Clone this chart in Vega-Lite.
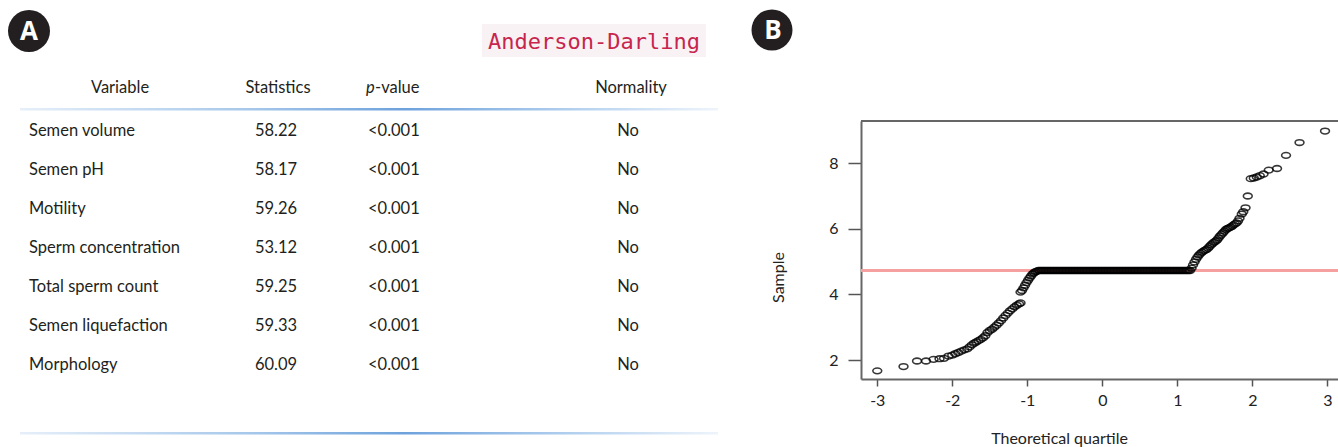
{
  "$schema": "https://vega.github.io/schema/vega-lite/v6.json",
  "padding": 0,
  "autosize": {"type": "pad"},
  "background": "white",
  "spacing": 0,
  "bounds": "flush",
  "config": {"view": {"stroke": null}, "font": "Lato"},
  "datasets": {
    "table": [
      {"Variable": "Semen volume", "Statistics": "58.22", "p": "<0.001", "Normality": "No"},
      {"Variable": "Semen pH", "Statistics": "58.17", "p": "<0.001", "Normality": "No"},
      {"Variable": "Motility", "Statistics": "59.26", "p": "<0.001", "Normality": "No"},
      {"Variable": "Sperm concentration", "Statistics": "53.12", "p": "<0.001", "Normality": "No"},
      {"Variable": "Total sperm count", "Statistics": "59.25", "p": "<0.001", "Normality": "No"},
      {"Variable": "Semen liquefaction", "Statistics": "59.33", "p": "<0.001", "Normality": "No"},
      {"Variable": "Morphology", "Statistics": "60.09", "p": "<0.001", "Normality": "No"}
    ],
    "qq": [
      {"q": -3.00, "s": 1.67}, {"q": -2.65, "s": 1.80}, {"q": -2.47, "s": 1.97}, {"q": -2.35, "s": 1.97},
      {"q": -2.25, "s": 2.02}, {"q": -2.17, "s": 2.04}, {"q": -2.11, "s": 2.05}, {"q": -2.05, "s": 2.12},
      {"q": -2.00, "s": 2.15}, {"q": -1.96, "s": 2.19}, {"q": -1.92, "s": 2.23}, {"q": -1.88, "s": 2.27},
      {"q": -1.84, "s": 2.31}, {"q": -1.80, "s": 2.34}, {"q": -1.77, "s": 2.40}, {"q": -1.74, "s": 2.46},
      {"q": -1.71, "s": 2.51}, {"q": -1.68, "s": 2.55}, {"q": -1.65, "s": 2.59}, {"q": -1.62, "s": 2.63},
      {"q": -1.59, "s": 2.68}, {"q": -1.56, "s": 2.74}, {"q": -1.53, "s": 2.84}, {"q": -1.50, "s": 2.90},
      {"q": -1.47, "s": 2.94}, {"q": -1.44, "s": 3.00}, {"q": -1.41, "s": 3.06}, {"q": -1.38, "s": 3.13},
      {"q": -1.35, "s": 3.20}, {"q": -1.32, "s": 3.28}, {"q": -1.29, "s": 3.36}, {"q": -1.26, "s": 3.43},
      {"q": -1.23, "s": 3.50}, {"q": -1.20, "s": 3.56}, {"q": -1.17, "s": 3.62}, {"q": -1.14, "s": 3.67},
      {"q": -1.11, "s": 3.71}, {"q": -1.09, "s": 3.74}, {"q": -1.09, "s": 4.07}, {"q": -1.07, "s": 4.12},
      {"q": -1.05, "s": 4.20}, {"q": -1.03, "s": 4.28}, {"q": -1.01, "s": 4.36}, {"q": -0.99, "s": 4.43},
      {"q": -0.97, "s": 4.50}, {"q": -0.95, "s": 4.56}, {"q": -0.93, "s": 4.62}, {"q": -0.91, "s": 4.66},
      {"q": -0.89, "s": 4.69}, {"q": -0.87, "s": 4.71},
      {"q": -0.85, "s": 4.73}, {"q": -0.83, "s": 4.73}, {"q": -0.81, "s": 4.73}, {"q": -0.79, "s": 4.73},
      {"q": -0.77, "s": 4.73}, {"q": -0.75, "s": 4.73}, {"q": -0.73, "s": 4.73}, {"q": -0.71, "s": 4.73},
      {"q": -0.69, "s": 4.73}, {"q": -0.67, "s": 4.73}, {"q": -0.65, "s": 4.73}, {"q": -0.63, "s": 4.73},
      {"q": -0.61, "s": 4.73}, {"q": -0.59, "s": 4.73}, {"q": -0.57, "s": 4.73}, {"q": -0.55, "s": 4.73},
      {"q": -0.53, "s": 4.73}, {"q": -0.51, "s": 4.73}, {"q": -0.49, "s": 4.73}, {"q": -0.47, "s": 4.73},
      {"q": -0.45, "s": 4.73}, {"q": -0.43, "s": 4.73}, {"q": -0.41, "s": 4.73}, {"q": -0.39, "s": 4.73},
      {"q": -0.37, "s": 4.73}, {"q": -0.35, "s": 4.73}, {"q": -0.33, "s": 4.73}, {"q": -0.31, "s": 4.73},
      {"q": -0.29, "s": 4.73}, {"q": -0.27, "s": 4.73}, {"q": -0.25, "s": 4.73}, {"q": -0.23, "s": 4.73},
      {"q": -0.21, "s": 4.73}, {"q": -0.19, "s": 4.73}, {"q": -0.17, "s": 4.73}, {"q": -0.15, "s": 4.73},
      {"q": -0.13, "s": 4.73}, {"q": -0.11, "s": 4.73}, {"q": -0.09, "s": 4.73}, {"q": -0.07, "s": 4.73},
      {"q": -0.05, "s": 4.73}, {"q": -0.03, "s": 4.73}, {"q": -0.01, "s": 4.73}, {"q": 0.01, "s": 4.73},
      {"q": 0.03, "s": 4.73}, {"q": 0.05, "s": 4.73}, {"q": 0.07, "s": 4.73}, {"q": 0.09, "s": 4.73},
      {"q": 0.11, "s": 4.73}, {"q": 0.13, "s": 4.73}, {"q": 0.15, "s": 4.73}, {"q": 0.17, "s": 4.73},
      {"q": 0.19, "s": 4.73}, {"q": 0.21, "s": 4.73}, {"q": 0.23, "s": 4.73}, {"q": 0.25, "s": 4.73},
      {"q": 0.27, "s": 4.73}, {"q": 0.29, "s": 4.73}, {"q": 0.31, "s": 4.73}, {"q": 0.33, "s": 4.73},
      {"q": 0.35, "s": 4.73}, {"q": 0.37, "s": 4.73}, {"q": 0.39, "s": 4.73}, {"q": 0.41, "s": 4.73},
      {"q": 0.43, "s": 4.73}, {"q": 0.45, "s": 4.73}, {"q": 0.47, "s": 4.73}, {"q": 0.49, "s": 4.73},
      {"q": 0.51, "s": 4.73}, {"q": 0.53, "s": 4.73}, {"q": 0.55, "s": 4.73}, {"q": 0.57, "s": 4.73},
      {"q": 0.59, "s": 4.73}, {"q": 0.61, "s": 4.73}, {"q": 0.63, "s": 4.73}, {"q": 0.65, "s": 4.73},
      {"q": 0.67, "s": 4.73}, {"q": 0.69, "s": 4.73}, {"q": 0.71, "s": 4.73}, {"q": 0.73, "s": 4.73},
      {"q": 0.75, "s": 4.73}, {"q": 0.77, "s": 4.73}, {"q": 0.79, "s": 4.73}, {"q": 0.81, "s": 4.73},
      {"q": 0.83, "s": 4.73}, {"q": 0.85, "s": 4.73}, {"q": 0.87, "s": 4.73}, {"q": 0.89, "s": 4.73},
      {"q": 0.91, "s": 4.73}, {"q": 0.93, "s": 4.73}, {"q": 0.95, "s": 4.73}, {"q": 0.97, "s": 4.73},
      {"q": 0.99, "s": 4.73}, {"q": 1.01, "s": 4.73}, {"q": 1.03, "s": 4.73}, {"q": 1.05, "s": 4.73},
      {"q": 1.07, "s": 4.73}, {"q": 1.09, "s": 4.73}, {"q": 1.11, "s": 4.73}, {"q": 1.13, "s": 4.73},
      {"q": 1.15, "s": 4.73}, {"q": 1.17, "s": 4.73},
      {"q": 1.19, "s": 4.80}, {"q": 1.21, "s": 4.90}, {"q": 1.23, "s": 4.99}, {"q": 1.25, "s": 5.07},
      {"q": 1.27, "s": 5.14}, {"q": 1.29, "s": 5.20}, {"q": 1.31, "s": 5.25}, {"q": 1.33, "s": 5.29},
      {"q": 1.35, "s": 5.32}, {"q": 1.37, "s": 5.35}, {"q": 1.39, "s": 5.37}, {"q": 1.41, "s": 5.41},
      {"q": 1.43, "s": 5.46}, {"q": 1.45, "s": 5.51}, {"q": 1.47, "s": 5.55}, {"q": 1.49, "s": 5.59},
      {"q": 1.51, "s": 5.62}, {"q": 1.53, "s": 5.66}, {"q": 1.55, "s": 5.72}, {"q": 1.57, "s": 5.78},
      {"q": 1.59, "s": 5.83}, {"q": 1.61, "s": 5.88}, {"q": 1.63, "s": 5.93}, {"q": 1.65, "s": 5.98},
      {"q": 1.67, "s": 6.01}, {"q": 1.69, "s": 6.03}, {"q": 1.71, "s": 6.05}, {"q": 1.73, "s": 6.08},
      {"q": 1.75, "s": 6.12}, {"q": 1.77, "s": 6.15}, {"q": 1.79, "s": 6.18}, {"q": 1.81, "s": 6.24},
      {"q": 1.83, "s": 6.32}, {"q": 1.86, "s": 6.45}, {"q": 1.88, "s": 6.52}, {"q": 1.91, "s": 6.64},
      {"q": 1.94, "s": 7.00}, {"q": 1.98, "s": 7.53}, {"q": 2.02, "s": 7.55}, {"q": 2.06, "s": 7.58},
      {"q": 2.10, "s": 7.62}, {"q": 2.15, "s": 7.67}, {"q": 2.22, "s": 7.79}, {"q": 2.33, "s": 7.84},
      {"q": 2.45, "s": 8.24}, {"q": 2.63, "s": 8.63}, {"q": 2.97, "s": 8.98}
    ]
  },
  "hconcat": [
    {
      "width": 861,
      "height": 447,
      "data": {"name": "table"},
      "resolve": {"scale": {"y": "independent"}},
      "layer": [
        {
          "data": {"values": [{}]},
          "mark": {"type": "rect", "color": "#f9f2f4"},
          "encoding": {
            "x": {"datum": 482, "type": "quantitative", "scale": {"domain": [0, 861], "nice": false, "zero": false}, "axis": null},
            "x2": {"datum": 706},
            "y": {"datum": 24, "type": "quantitative", "scale": {"domain": [0, 447], "reverse": true, "nice": false, "zero": false}, "axis": null},
            "y2": {"datum": 57}
          }
        },
        {
          "data": {"values": [{}]},
          "mark": {"type": "text", "text": "Anderson-Darling", "font": "DejaVu Sans Mono", "fontSize": 22, "color": "#c7254e", "align": "left", "baseline": "middle"},
          "encoding": {
            "x": {"datum": 488, "type": "quantitative", "axis": null},
            "y": {"datum": 42, "type": "quantitative", "scale": {"domain": [0, 447], "reverse": true, "nice": false, "zero": false}, "axis": null}
          }
        },
        {
          "data": {"values": [{}]},
          "mark": {"type": "point", "shape": "circle", "filled": true, "size": 1764, "color": "#231f20", "opacity": 1},
          "encoding": {
            "x": {"datum": 29, "type": "quantitative", "axis": null},
            "y": {"datum": 31, "type": "quantitative", "scale": {"domain": [0, 447], "reverse": true, "nice": false, "zero": false}, "axis": null}
          }
        },
        {
          "data": {"values": [{}]},
          "mark": {"type": "text", "text": "A", "font": "Open Sans", "fontWeight": "bold", "fontSize": 26, "color": "white", "align": "center", "baseline": "middle"},
          "encoding": {
            "x": {"datum": 29, "type": "quantitative", "axis": null},
            "y": {"datum": 32, "type": "quantitative", "scale": {"domain": [0, 447], "reverse": true, "nice": false, "zero": false}, "axis": null}
          }
        },
        {
          "data": {"values": [{}]},
          "mark": {"type": "point", "shape": "circle", "filled": true, "size": 1681, "color": "#231f20", "opacity": 1},
          "encoding": {
            "x": {"datum": 772, "type": "quantitative", "axis": null},
            "y": {"datum": 30, "type": "quantitative", "scale": {"domain": [0, 447], "reverse": true, "nice": false, "zero": false}, "axis": null}
          }
        },
        {
          "data": {"values": [{}]},
          "mark": {"type": "text", "text": "B", "font": "Open Sans", "fontWeight": "bold", "fontSize": 26, "color": "white", "align": "center", "baseline": "middle"},
          "encoding": {
            "x": {"datum": 773, "type": "quantitative", "axis": null},
            "y": {"datum": 31, "type": "quantitative", "scale": {"domain": [0, 447], "reverse": true, "nice": false, "zero": false}, "axis": null}
          }
        },
        {
          "data": {"values": [{}]},
          "mark": {"type": "text", "text": "Variable", "fontSize": 16.5, "color": "#231f20", "align": "center", "baseline": "middle"},
          "encoding": {
            "x": {"datum": 120, "type": "quantitative", "axis": null},
            "y": {"datum": 88, "type": "quantitative", "scale": {"domain": [0, 447], "reverse": true, "nice": false, "zero": false}, "axis": null}
          }
        },
        {
          "data": {"values": [{}]},
          "mark": {"type": "text", "text": "Statistics", "fontSize": 16.5, "color": "#231f20", "align": "center", "baseline": "middle"},
          "encoding": {
            "x": {"datum": 278, "type": "quantitative", "axis": null},
            "y": {"datum": 88, "type": "quantitative", "scale": {"domain": [0, 447], "reverse": true, "nice": false, "zero": false}, "axis": null}
          }
        },
        {
          "data": {"values": [{}]},
          "mark": {"type": "text", "text": "p", "fontSize": 16.5, "fontStyle": "italic", "color": "#231f20", "align": "left", "baseline": "middle"},
          "encoding": {
            "x": {"datum": 366, "type": "quantitative", "axis": null},
            "y": {"datum": 88, "type": "quantitative", "scale": {"domain": [0, 447], "reverse": true, "nice": false, "zero": false}, "axis": null}
          }
        },
        {
          "data": {"values": [{}]},
          "mark": {"type": "text", "text": "-value", "fontSize": 16.5, "color": "#231f20", "align": "left", "baseline": "middle"},
          "encoding": {
            "x": {"datum": 375, "type": "quantitative", "axis": null},
            "y": {"datum": 88, "type": "quantitative", "scale": {"domain": [0, 447], "reverse": true, "nice": false, "zero": false}, "axis": null}
          }
        },
        {
          "data": {"values": [{}]},
          "mark": {"type": "text", "text": "Normality", "fontSize": 16.5, "color": "#231f20", "align": "center", "baseline": "middle"},
          "encoding": {
            "x": {"datum": 631, "type": "quantitative", "axis": null},
            "y": {"datum": 88, "type": "quantitative", "scale": {"domain": [0, 447], "reverse": true, "nice": false, "zero": false}, "axis": null}
          }
        },
        {
          "data": {"values": [{}]},
          "mark": {"type": "rect", "fill": {"gradient": "linear", "x1": 0, "y1": 0, "x2": 1, "y2": 0, "stops": [{"offset": 0, "color": "#e6eff9"}, {"offset": 0.33, "color": "#a6c7ea"}, {"offset": 0.55, "color": "#6ea2dc"}, {"offset": 0.8, "color": "#b5d1ef"}, {"offset": 1, "color": "#eef4fb"}]}},
          "encoding": {
            "x": {"datum": 20, "type": "quantitative", "axis": null},
            "x2": {"datum": 718},
            "y": {"datum": 108, "type": "quantitative", "scale": {"domain": [0, 447], "reverse": true, "nice": false, "zero": false}, "axis": null},
            "y2": {"datum": 110.5}
          }
        },
        {
          "data": {"values": [{}]},
          "mark": {"type": "rect", "fill": {"gradient": "linear", "x1": 0, "y1": 0, "x2": 1, "y2": 0, "stops": [{"offset": 0, "color": "#e6eff9"}, {"offset": 0.33, "color": "#a6c7ea"}, {"offset": 0.55, "color": "#6ea2dc"}, {"offset": 0.8, "color": "#b5d1ef"}, {"offset": 1, "color": "#eef4fb"}]}},
          "encoding": {
            "x": {"datum": 20, "type": "quantitative", "axis": null},
            "x2": {"datum": 718},
            "y": {"datum": 432, "type": "quantitative", "scale": {"domain": [0, 447], "reverse": true, "nice": false, "zero": false}, "axis": null},
            "y2": {"datum": 434.5}
          }
        },
        {
          "mark": {"type": "text", "fontSize": 16.5, "color": "#231f20", "align": "left", "baseline": "middle"},
          "encoding": {
            "x": {"datum": 29, "type": "quantitative", "axis": null},
            "y": {"field": "Variable", "type": "nominal", "sort": null, "scale": {"type": "point", "range": [131, 365], "padding": 0}, "axis": null},
            "text": {"field": "Variable"}
          }
        },
        {
          "mark": {"type": "text", "fontSize": 16.5, "color": "#231f20", "align": "center", "baseline": "middle"},
          "encoding": {
            "x": {"datum": 276, "type": "quantitative", "axis": null},
            "y": {"field": "Variable", "type": "nominal", "sort": null, "scale": {"type": "point", "range": [131, 365], "padding": 0}, "axis": null},
            "text": {"field": "Statistics"}
          }
        },
        {
          "mark": {"type": "text", "fontSize": 16.5, "color": "#231f20", "align": "left", "baseline": "middle"},
          "encoding": {
            "x": {"datum": 368, "type": "quantitative", "axis": null},
            "y": {"field": "Variable", "type": "nominal", "sort": null, "scale": {"type": "point", "range": [131, 365], "padding": 0}, "axis": null},
            "text": {"field": "p"}
          }
        },
        {
          "mark": {"type": "text", "fontSize": 16.5, "color": "#231f20", "align": "center", "baseline": "middle"},
          "encoding": {
            "x": {"datum": 628, "type": "quantitative", "axis": null},
            "y": {"field": "Variable", "type": "nominal", "sort": null, "scale": {"type": "point", "range": [131, 365], "padding": 0}, "axis": null},
            "text": {"field": "Normality"}
          }
        }
      ]
    },
    {
      "spacing": 0,
      "bounds": "flush",
      "vconcat": [
        {
          "width": 477,
          "height": 121,
          "data": {"values": [{}]},
          "mark": {"type": "text", "text": ""},
          "encoding": {}
        },
        {
          "width": 477,
          "height": 258,
          "data": {"name": "qq"},
          "layer": [
            {
              "mark": {"type": "rule", "color": "#f5a0a0", "strokeWidth": 2},
              "encoding": {
                "y": {"datum": 4.73, "type": "quantitative"}
              }
            },
            {
              "mark": {"type": "rule", "color": "#666666", "strokeWidth": 2},
              "encoding": {
                "y": {"datum": 9.287, "type": "quantitative"}
              }
            },
            {
              "mark": {"type": "point", "shape": "M-1,0A1,0.65,0,1,1,1,0A1,0.65,0,1,1,-1,0Z", "filled": false, "size": 78, "stroke": "#000000", "strokeOpacity": 0.78, "strokeWidth": 1.6, "opacity": 1},
              "encoding": {
                "x": {
                  "field": "q", "type": "quantitative",
                  "scale": {"domain": [-3.217, 3.143], "nice": false, "zero": false},
                  "axis": {
                    "values": [-3, -2, -1, 0, 1, 2, 3],
                    "labelExpr": "toString(datum.value)",
                    "grid": false,
                    "domainColor": "#666666", "domainWidth": 2,
                    "tickColor": "#555555", "tickWidth": 1.5, "tickSize": 7,
                    "labelFont": "Lato", "labelFontSize": 16, "labelColor": "#222222", "labelPadding": 6, "labelFlush": false,
                    "title": "Theoretical quartile", "titleFont": "Lato", "titleFontSize": 16, "titleFontWeight": "normal", "titleColor": "#222222",
                    "titleX": 198, "titleY": 59, "titleAlign": "center", "titleBaseline": "middle"
                  }
                },
                "y": {
                  "field": "s", "type": "quantitative",
                  "scale": {"domain": [1.421, 9.287], "nice": false, "zero": false},
                  "axis": {
                    "values": [2, 4, 6, 8],
                    "grid": false,
                    "domainColor": "#666666", "domainWidth": 2,
                    "tickColor": "#555555", "tickWidth": 1.5, "tickSize": 13,
                    "labelFont": "Lato", "labelFontSize": 16, "labelColor": "#222222", "labelPadding": 10,
                    "title": "Sample", "titleFont": "Lato", "titleFontSize": 16, "titleFontWeight": "normal", "titleColor": "#222222",
                    "titleX": -83, "titleY": 156, "titleAlign": "center", "titleBaseline": "middle", "titleAngle": -90
                  }
                }
              }
            }
          ]
        }
      ]
    }
  ]
}
